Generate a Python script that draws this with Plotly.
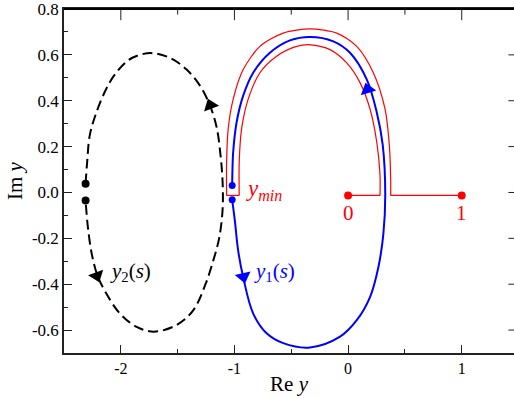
import plotly.graph_objects as go

# ---- data ----
# y2(s): black dashed loop
y2_re = [-2.31, -2.296, -2.273, -2.214, -2.13, -2.052, -1.93, -1.81, -1.709, -1.56, -1.421,
         -1.304, -1.216, -1.157, -1.122, -1.104, -1.105, -1.135, -1.187, -1.255,
         -1.363, -1.509, -1.709, -1.861, -2.008, -2.126, -2.205, -2.255, -2.29, -2.31]
y2_im = [0.038, 0.134, 0.25, 0.35, 0.45, 0.515, 0.578, 0.603, 0.607, 0.585, 0.536,
         0.466, 0.38, 0.285, 0.16, 0.04, -0.08, -0.2, -0.298, -0.4,
         -0.514, -0.578, -0.607, -0.586, -0.528, -0.442, -0.363, -0.27, -0.15, -0.035]
y2_end_re = [-2.31, -2.31]
y2_end_im = [0.038, -0.035]

# y1(s): blue loop
y1_re = [-1.02, -1.018, -1.011, -0.981, -0.923, -0.835, -0.688, -0.512, -0.335, -0.13, 0.017,
         0.164, 0.252, 0.305, 0.327, 0.31, 0.266, 0.193, 0.076, -0.071, -0.335,
         -0.571, -0.717, -0.835, -0.923, -0.967, -0.996, -1.02]
y1_im = [0.03, 0.09, 0.177, 0.306, 0.422, 0.522, 0.609, 0.663, 0.678, 0.659, 0.609,
         0.493, 0.35, 0.206, -0.01, -0.183, -0.327, -0.456, -0.557, -0.629, -0.676,
         -0.657, -0.614, -0.528, -0.37, -0.255, -0.125, -0.032]
y1_end_re = [-1.02, -1.02]
y1_end_im = [0.03, -0.032]

# red keyhole contour
red_outer_re = [-1.069, -1.069, -1.055, -1.011, -0.923, -0.776, -0.571, -0.335, -0.1, 0.076,
                0.222, 0.325, 0.363, 0.375, 0.375]
red_outer_im = [-0.013, 0.134, 0.278, 0.407, 0.536, 0.637, 0.695, 0.713, 0.695, 0.637,
                0.522, 0.364, 0.206, 0.05, -0.013]
red_inner_re = [0.281, 0.281, 0.252, 0.193, 0.105, -0.012, -0.159, -0.33, -0.453, -0.629,
                -0.776, -0.879, -0.937, -0.958, -0.958]
red_inner_im = [-0.013, 0.076, 0.22, 0.364, 0.479, 0.565, 0.623, 0.644, 0.637, 0.594,
                0.522, 0.407, 0.278, 0.134, -0.013]
red_seg_re = [0, 0.281, None, -0.958, -1.069, None, 0.375, 1]
red_seg_im = [-0.013, -0.013, None, -0.013, -0.013, None, -0.013, -0.013]
red_pts_re = [0, 1]
red_pts_im = [-0.013, -0.013]

# direction arrows (position, angle clockwise from up)
arr_black_re = [-1.212, -2.211]
arr_black_im = [0.38, -0.363]
arr_black_ang = [-21, 160]
arr_blue_re = [0.171, -0.921]
arr_blue_im = [0.449, -0.367]
arr_blue_ang = [-17, 167]

# axes
x_range = [-2.5, 1.46]
y_range = [-0.7, 0.8]
x_ticks = [-2, -1, 0, 1]
x_minor = [-1.5, -0.5, 0.5]
y_ticks = [-0.6, -0.4, -0.2, 0.0, 0.2, 0.4, 0.6, 0.8]

FONT = "Liberation Serif"
RED = "#ff0000"
BLUE = "#0000ff"
AX = "#222222"

fig = go.Figure()

fig.add_trace(go.Scatter(x=y2_re, y=y2_im, mode="lines",
                         line=dict(color="black", width=2, dash="10px,5px",
                                   shape="spline", smoothing=1.0),
                         hoverinfo="skip"))
fig.add_trace(go.Scatter(x=red_outer_re, y=red_outer_im, mode="lines",
                         line=dict(color=RED, width=1.2, shape="spline", smoothing=0.8),
                         hoverinfo="skip"))
fig.add_trace(go.Scatter(x=red_inner_re, y=red_inner_im, mode="lines",
                         line=dict(color=RED, width=1.2, shape="spline", smoothing=0.8),
                         hoverinfo="skip"))
fig.add_trace(go.Scatter(x=red_seg_re, y=red_seg_im, mode="lines",
                         line=dict(color=RED, width=1.2), hoverinfo="skip"))
fig.add_trace(go.Scatter(x=y1_re, y=y1_im, mode="lines",
                         line=dict(color=BLUE, width=2, shape="spline", smoothing=1.0),
                         hoverinfo="skip"))
fig.add_trace(go.Scatter(x=y2_end_re, y=y2_end_im, mode="markers",
                         marker=dict(color="black", size=8), hoverinfo="skip"))
fig.add_trace(go.Scatter(x=y1_end_re, y=y1_end_im, mode="markers",
                         marker=dict(color=BLUE, size=7), hoverinfo="skip"))
fig.add_trace(go.Scatter(x=red_pts_re, y=red_pts_im, mode="markers",
                         marker=dict(color=RED, size=8), hoverinfo="skip"))
fig.add_trace(go.Scatter(x=arr_black_re, y=arr_black_im, mode="markers",
                         marker=dict(color="black", size=14, symbol="triangle-up",
                                     angle=arr_black_ang, line=dict(width=0)),
                         hoverinfo="skip"))
fig.add_trace(go.Scatter(x=arr_blue_re, y=arr_blue_im, mode="markers",
                         marker=dict(color=BLUE, size=14, symbol="triangle-up",
                                     angle=arr_blue_ang, line=dict(width=0)),
                         hoverinfo="skip"))

# top-edge inward ticks and right-edge inward ticks
fig.add_trace(go.Scatter(x=x_ticks, y=[y_range[1]] * len(x_ticks), mode="markers",
                         cliponaxis=True,
                         marker=dict(symbol="line-ns", size=16, color=AX,
                                     line=dict(color=AX, width=1)), hoverinfo="skip"))
fig.add_trace(go.Scatter(x=x_minor, y=[y_range[1]] * len(x_minor), mode="markers",
                         cliponaxis=True,
                         marker=dict(symbol="line-ns", size=8, color=AX,
                                     line=dict(color=AX, width=1)), hoverinfo="skip"))
fig.add_trace(go.Scatter(x=[x_range[1]] * len(y_ticks), y=y_ticks, mode="markers",
                         cliponaxis=True,
                         marker=dict(symbol="line-ew", size=8, color=AX,
                                     line=dict(color=AX, width=1)), hoverinfo="skip"))

ann = [
    dict(x=-0.917, y=0.012, text="<i>y</i><sub><i>min</i></sub>", xanchor="left",
         yanchor="middle", font=dict(color=RED, size=23, family=FONT)),
    dict(x=-0.648, y=-0.345, text="<i>y</i><sub>1</sub>(<i>s</i>)", xanchor="center",
         yanchor="middle", font=dict(color=BLUE, size=21, family=FONT)),
    dict(x=-1.918, y=-0.345, text="<i>y</i><sub>2</sub>(<i>s</i>)", xanchor="center",
         yanchor="middle", font=dict(color="black", size=21, family=FONT)),
    dict(x=red_pts_re[0], y=-0.089, text="0", xanchor="center", yanchor="middle",
         font=dict(color=RED, size=21, family=FONT)),
    dict(x=red_pts_re[1], y=-0.089, text="1", xanchor="center", yanchor="middle",
         font=dict(color=RED, size=21, family=FONT)),
]
for a in ann:
    a.update(showarrow=False, xref="x", yref="y")

# top border of the frame
frame = [dict(type="line", xref="paper", yref="paper", x0=0, x1=1, y0=1, y1=1,
              layer="above", line=dict(color="black", width=2))]

fig.update_layout(
    width=514, height=398,
    margin=dict(l=64, r=0, t=6, b=45),
    paper_bgcolor="white", plot_bgcolor="white",
    showlegend=False,
    font=dict(family=FONT, color="black", size=16),
    annotations=ann,
    shapes=frame,
    xaxis=dict(range=x_range, tickvals=x_ticks, ticktext=[str(v) for v in x_ticks],
               showgrid=False, zeroline=False, showline=True, linecolor=AX,
               linewidth=1.5, mirror=True, ticks="inside", ticklen=8, tickwidth=1,
               tickcolor=AX, ticklabeloverflow="allow",
               minor=dict(dtick=0.5, tick0=0, ticks="inside", ticklen=4, tickcolor=AX),
               title=dict(text="Re <i>y</i>", font=dict(size=21, family=FONT), standoff=0),
               tickfont=dict(size=16, family=FONT, color="black")),
    yaxis=dict(range=y_range, tickvals=y_ticks, ticktext=[f"{v:.1f}" for v in y_ticks],
               showgrid=False, zeroline=False, showline=True, linecolor=AX,
               linewidth=1.5, ticks="inside", ticklen=8, tickwidth=1,
               tickcolor=AX, ticklabelstandoff=0, ticklabeloverflow="allow",
               minor=dict(dtick=0.1, tick0=0, ticks="inside", ticklen=4, tickcolor=AX),
               title=dict(text="Im <i>y</i>", font=dict(size=21, family=FONT), standoff=4),
               tickfont=dict(size=17, family=FONT, color="black")),
)

fig.write_html("out.html")
